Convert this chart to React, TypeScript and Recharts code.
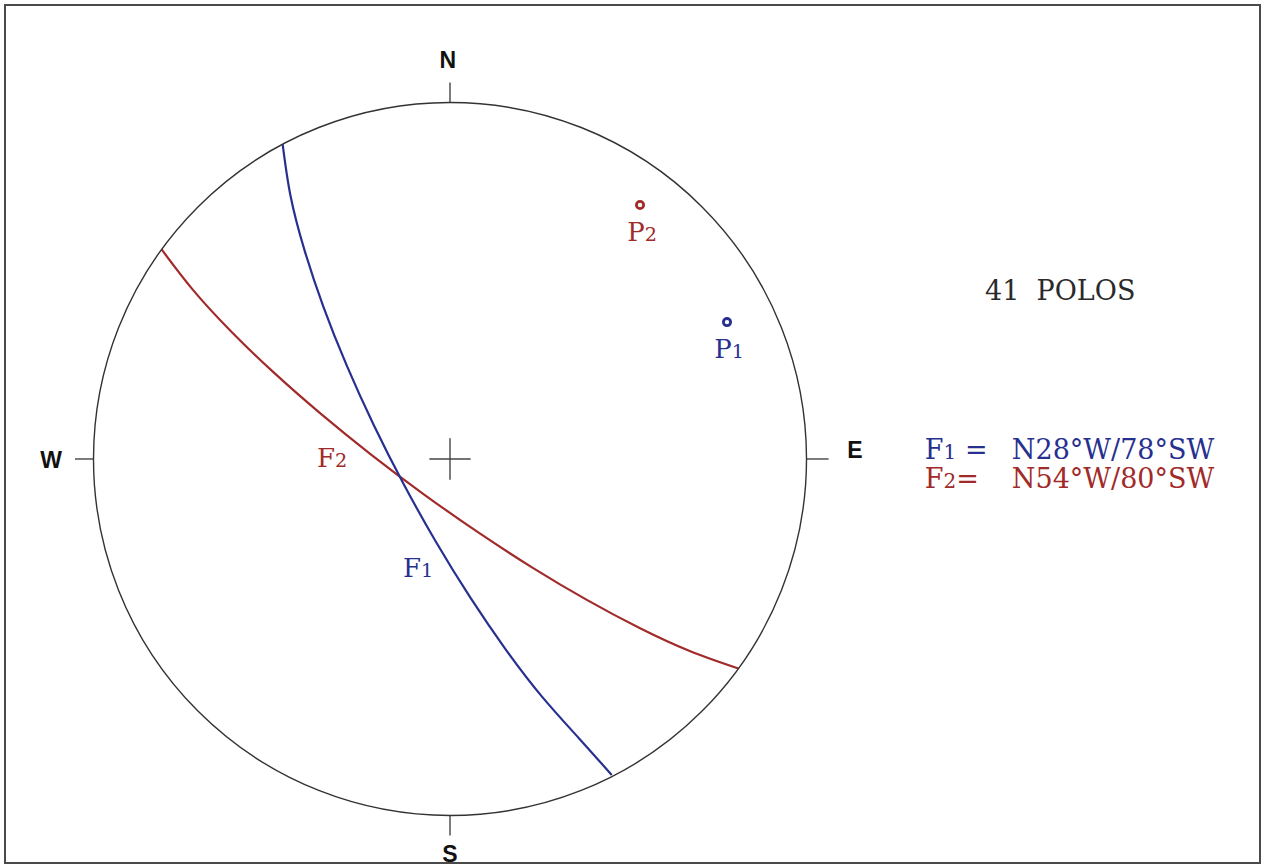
import {
  ComposedChart,
  Line,
  ReferenceDot,
  ReferenceLine,
  Scatter,
  XAxis,
  YAxis,
} from "recharts";

// great circle traces (unit circle, x = east, y = north)
const f1Trace = [
  { x: -0.4695, y: 0.883 },
  { x: -0.4476, y: 0.7393 },
  { x: -0.4084, y: 0.5867 },
  { x: -0.3551, y: 0.427 },
  { x: -0.2898, y: 0.2627 },
  { x: -0.2143, y: 0.0962 },
  { x: -0.1305, y: -0.0694 },
  { x: -0.04, y: -0.2315 },
  { x: 0.0558, y: -0.387 },
  { x: 0.1555, y: -0.5331 },
  { x: 0.258, y: -0.6666 },
  { x: 0.3627, y: -0.7845 },
  { x: 0.4536, y: -0.8864 },
];

const f2Trace = [
  { x: -0.809, y: 0.5878 },
  { x: -0.7211, y: 0.4744 },
  { x: -0.6153, y: 0.3592 },
  { x: -0.4947, y: 0.2428 },
  { x: -0.3621, y: 0.1265 },
  { x: -0.2205, y: 0.0117 },
  { x: -0.0725, y: -0.0997 },
  { x: 0.0793, y: -0.206 },
  { x: 0.2322, y: -0.3053 },
  { x: 0.3838, y: -0.3953 },
  { x: 0.5317, y: -0.4742 },
  { x: 0.674, y: -0.5394 },
  { x: 0.809, y: -0.5878 },
];

const pole1 = [{ name: "P", sub: "1", x: 0.777, y: 0.384 }];
const pole2 = [{ name: "P", sub: "2", x: 0.533, y: 0.7125 }];

const planeNames = ["F", "F"];
const planeSubs = ["1", "2"];
const planeValues = ["N28°W/78°SW", "N54°W/80°SW"];
const poleCount = 41;

const BLUE = "#27308f";
const RED = "#a12a2a";
const SERIF = "'DejaVu Serif', 'Liberation Serif', serif";
const SANS = "'Liberation Sans', Arial, sans-serif";

const W = 1263;
const H = 866;

const textAt =
  (content: React.ReactNode, opts: Record<string, any>) => (p: any) =>
    (
      <text x={p.cx} y={p.cy} {...opts}>
        {content}
      </text>
    );

const sub = (main: string, s: string) => (
  <>
    <tspan>{main}</tspan>
    <tspan fontSize="0.74em">{s}</tspan>
  </>
);

const poleShape = (color: string) => (p: any) =>
  (
    <g>
      <circle
        cx={p.cx}
        cy={p.cy}
        r={3.6}
        fill="#fff"
        stroke={color}
        strokeWidth={2.8}
      />
      <text
        x={p.cx + 2}
        y={p.cy + 36}
        textAnchor="middle"
        fill={color}
        fontFamily={SERIF}
        fontSize={26}
      >
        {sub(p.payload.name, p.payload.sub)}
      </text>
    </g>
  );

const cardinal = {
  fontFamily: SANS,
  fontWeight: 700,
  fontSize: 23,
  fill: "#111",
  textAnchor: "middle",
};

const Stereonet = () => (
  <div style={{ position: "absolute", left: 0, top: 0, width: W, height: H }}>
    <div
      style={{
        position: "absolute",
        left: 4,
        top: 4,
        width: 1253,
        height: 856,
        border: "2px solid #4a4a4a",
      }}
    />
    <ComposedChart
      width={W}
      height={H}
      margin={{ top: 0, right: 0, bottom: 0, left: 0 }}
      style={{ position: "absolute", left: 0, top: 0 }}
    >
      <XAxis
        type="number"
        dataKey="x"
        domain={[-1.2623, 2.2805]}
        hide
        allowDataOverflow
      />
      <YAxis
        type="number"
        dataKey="y"
        domain={[-1.1417, 1.2875]}
        hide
        width={0}
        allowDataOverflow
      />

      {/* primitive circle */}
      <ReferenceDot
        x={0}
        y={0}
        r={356.5}
        fill="none"
        stroke="#333"
        strokeWidth={1.4}
      />

      {/* cardinal ticks */}
      <ReferenceLine segment={[{ x: 0, y: 1 }, { x: 0, y: 1.056 }]} stroke="#444" strokeWidth={1.4} />
      <ReferenceLine segment={[{ x: 0, y: -1 }, { x: 0, y: -1.056 }]} stroke="#444" strokeWidth={1.4} />
      <ReferenceLine segment={[{ x: -1, y: 0 }, { x: -1.052, y: 0 }]} stroke="#444" strokeWidth={1.4} />
      <ReferenceLine segment={[{ x: 1, y: 0 }, { x: 1.062, y: 0 }]} stroke="#444" strokeWidth={1.4} />

      {/* centre cross */}
      <ReferenceLine segment={[{ x: -0.058, y: 0 }, { x: 0.058, y: 0 }]} stroke="#444" strokeWidth={1.4} />
      <ReferenceLine segment={[{ x: 0, y: -0.058 }, { x: 0, y: 0.058 }]} stroke="#444" strokeWidth={1.4} />

      <ReferenceDot x={-0.006} y={1.097} r={0} shape={textAt("N", cardinal)} />
      <ReferenceDot x={0} y={-1.13} r={0} shape={textAt("S", cardinal)} />
      <ReferenceDot x={-1.119} y={-0.025} r={0} shape={textAt("W", cardinal)} />
      <ReferenceDot x={1.136} y={0.003} r={0} shape={textAt("E", cardinal)} />

      <Line
        data={f2Trace}
        dataKey="y"
        type="natural"
        stroke={RED}
        strokeWidth={2.2}
        dot={false}
        activeDot={false}
        isAnimationActive={false}
      />
      <Line
        data={f1Trace}
        dataKey="y"
        type="natural"
        stroke={BLUE}
        strokeWidth={2.2}
        dot={false}
        activeDot={false}
        isAnimationActive={false}
      />

      <Scatter data={pole2} shape={poleShape(RED)} isAnimationActive={false} />
      <Scatter data={pole1} shape={poleShape(BLUE)} isAnimationActive={false} />

      {/* curve labels */}
      <ReferenceDot
        x={-0.373}
        y={-0.022}
        r={0}
        shape={textAt(sub(planeNames[1], planeSubs[1]), {
          fill: RED,
          fontFamily: SERIF,
          fontSize: 26,
        })}
      />
      <ReferenceDot
        x={-0.132}
        y={-0.331}
        r={0}
        shape={textAt(sub(planeNames[0], planeSubs[0]), {
          fill: BLUE,
          fontFamily: SERIF,
          fontSize: 26,
        })}
      />

      {/* annotations */}
      <ReferenceDot
        x={1.5007}
        y={0.446}
        r={0}
        shape={textAt(`${poleCount}\u00a0 POLOS`, {
          fill: "#2a2a2a",
          fontFamily: SERIF,
          fontSize: 27,
        })}
      />
      <ReferenceDot
        x={1.332}
        y={0.0}
        r={0}
        shape={textAt(
          <>
            {sub(planeNames[0], planeSubs[0])}
            <tspan> =</tspan>
          </>,
          { fill: BLUE, fontFamily: SERIF, fontSize: 27 }
        )}
      />
      <ReferenceDot
        x={1.576}
        y={0.0}
        r={0}
        shape={textAt(planeValues[0], {
          fill: BLUE,
          fontFamily: SERIF,
          fontSize: 27,
        })}
      />
      <ReferenceDot
        x={1.332}
        y={-0.081}
        r={0}
        shape={textAt(
          <>
            {sub(planeNames[1], planeSubs[1])}
            <tspan>=</tspan>
          </>,
          { fill: RED, fontFamily: SERIF, fontSize: 27 }
        )}
      />
      <ReferenceDot
        x={1.576}
        y={-0.081}
        r={0}
        shape={textAt(planeValues[1], {
          fill: RED,
          fontFamily: SERIF,
          fontSize: 27,
        })}
      />
    </ComposedChart>
  </div>
);

export default function App() {
  return <Stereonet />;
}
